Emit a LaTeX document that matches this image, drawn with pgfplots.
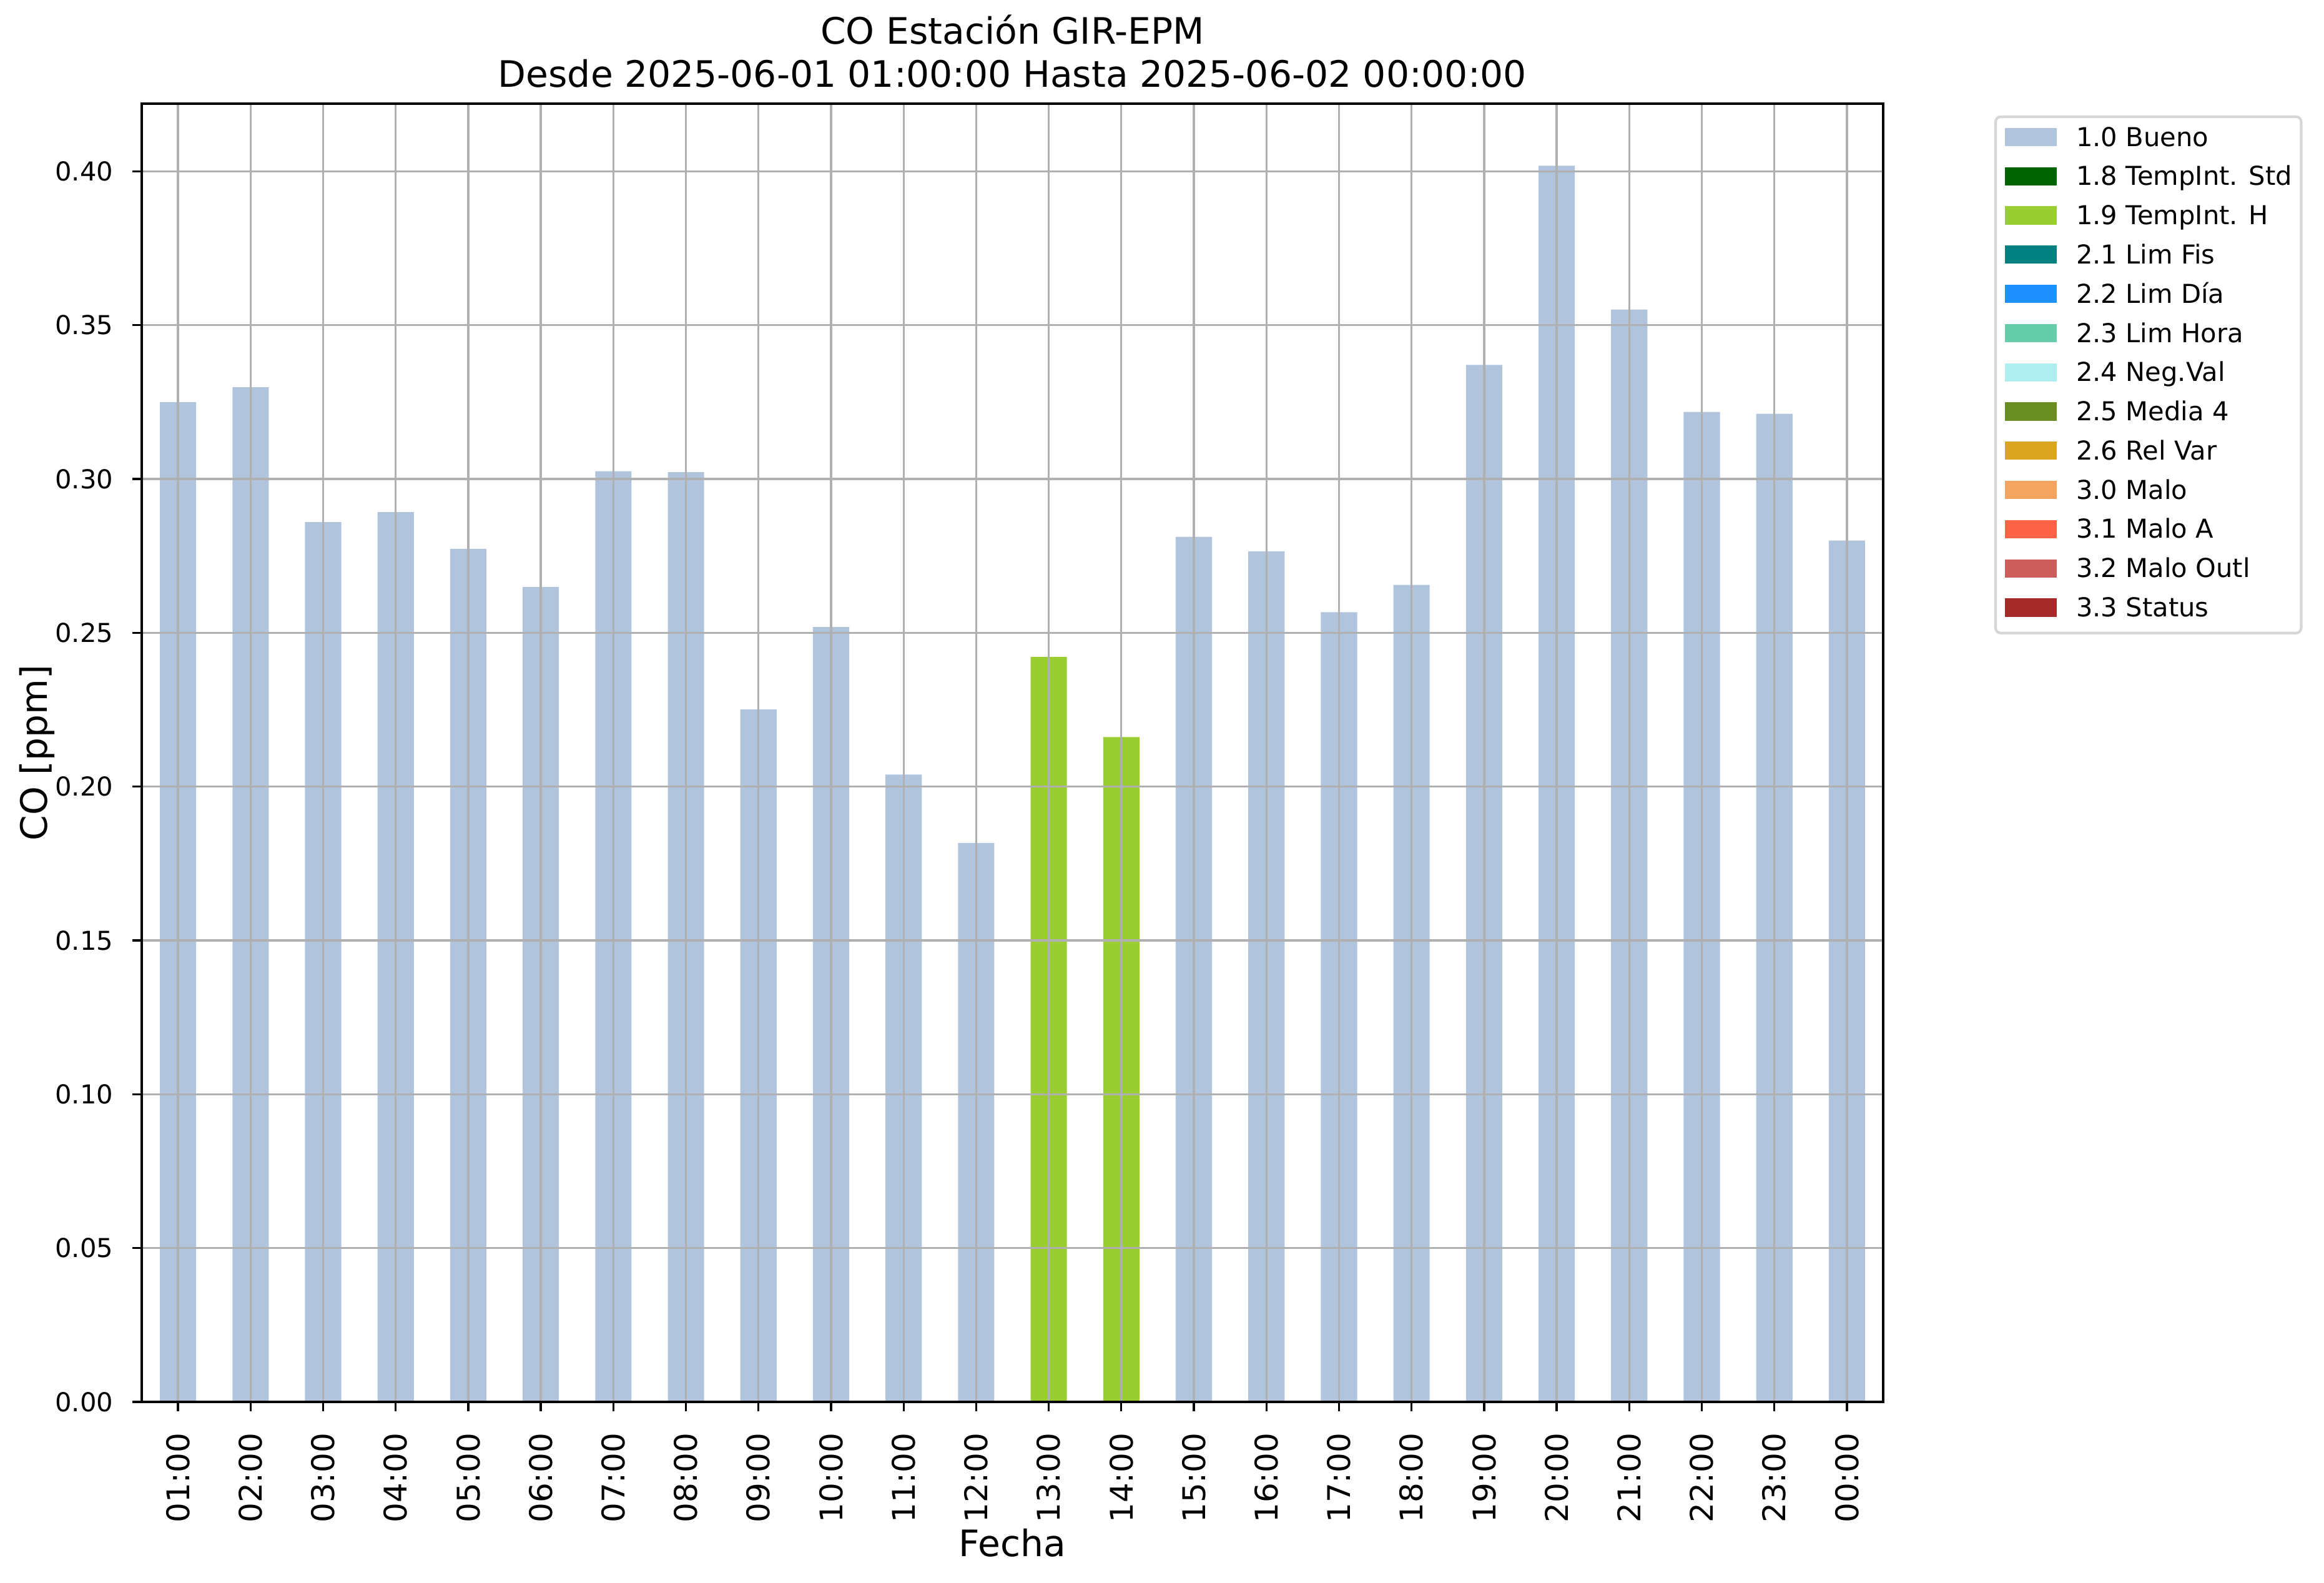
\documentclass[border=0pt]{standalone}
\usepackage{fontspec}
\setmainfont{DejaVu Sans}
\usepackage{pgfplots}
\pgfplotsset{compat=1.18}

\definecolor{bueno}{HTML}{B0C4DE}
\definecolor{tstd}{HTML}{006400}
\definecolor{th}{HTML}{9ACD32}
\definecolor{limfis}{HTML}{008080}
\definecolor{limdia}{HTML}{1E90FF}
\definecolor{limhora}{HTML}{66CDAA}
\definecolor{negval}{HTML}{AFEEEE}
\definecolor{media}{HTML}{6B8E23}
\definecolor{relvar}{HTML}{DAA520}
\definecolor{malo}{HTML}{F4A460}
\definecolor{maloa}{HTML}{FF6347}
\definecolor{malooutl}{HTML}{CD5C5C}
\definecolor{status}{HTML}{A52A2A}
\definecolor{gridgray}{HTML}{B0B0B0}
\definecolor{legframe}{HTML}{D6D6D6}

\begin{document}
\begin{tikzpicture}
\begin{axis}[
    at={(0,0)}, anchor=south west,
    scale only axis,
    width=669.36pt, height=498.96pt,
    xmin=-0.5, xmax=23.5,
    ymin=0, ymax=0.422,
    xtick={0,...,23},
    xticklabels={01:00,02:00,03:00,04:00,05:00,06:00,07:00,08:00,09:00,10:00,11:00,12:00,
                 13:00,14:00,15:00,16:00,17:00,18:00,19:00,20:00,21:00,22:00,23:00,00:00},
    ytick={0,0.05,0.1,0.15,0.2,0.25,0.3,0.35,0.4},
    scaled y ticks=false,
    /pgf/number format/assume math mode=true,
    yticklabel style={/pgf/number format/fixed, /pgf/number format/fixed zerofill,
                      /pgf/number format/precision=2,
                      font=\fontsize{10}{12}\selectfont, anchor=east, inner sep=0pt, xshift=-7.3pt},
    xticklabel style={font=\fontsize{12}{14}\selectfont, yshift=-8.2pt, rotate=90, anchor=east, inner sep=0pt},
    tick align=outside,
    xtick pos=left, ytick pos=left,
    major tick length=3.5pt,
    tick style={black, line width=0.8pt},
    axis line style={line width=0.8pt},
    grid=major,
    major grid style={color=gridgray, line width=0.8pt},
    axis on top,
    title={CO Estación GIR-EPM\\Desde 2025-06-01 01:00:00 Hasta 2025-06-02 00:00:00},
    title style={at={(0.5,1)}, anchor=south, align=center, inner sep=0pt, yshift=0pt,
                 font=\fontsize{14}{16.6}\selectfont},
    xlabel={Fecha},
    every axis x label/.style={at={(axis description cs:0.5,0)}, yshift=-59.28pt, anchor=base,
                 font=\fontsize{14}{16}\selectfont},
    ylabel={CO [ppm]},
    every axis y label/.style={at={(axis description cs:0,0.5)}, xshift=-36.24pt, rotate=90, anchor=base,
                 font=\fontsize{14}{16}\selectfont},
    legend image code/.code={\fill[#1, draw=none, sharp corners] (0pt,0pt) rectangle (20pt,7pt);},
    legend cell align=left,
    legend style={at={(1.0638,0.9909)}, anchor=north west,
                  draw=legframe, line width=1pt, rounded corners=2pt, fill=white,
                  inner xsep=3.5pt, inner ysep=3.8pt,
                  font=\fontsize{10}{12}\selectfont,
                  cells={anchor=base west},
                  nodes={inner sep=0pt, text height=7.5pt, text depth=2.5pt},
                  /tikz/row sep=5.07pt, /tikz/column sep=7.5pt},
]

% 1.0 Bueno
\addplot[ybar, bar width=0.5, fill=bueno, draw=none, forget plot] coordinates {
    (0,0.3250) (1,0.3298) (2,0.2860) (3,0.2892) (4,0.2773) (5,0.2649)
    (6,0.3025) (7,0.3022) (8,0.2251) (9,0.2519) (10,0.2039) (11,0.1817)
    (14,0.2812) (15,0.2765) (16,0.2567) (17,0.2656) (18,0.3371) (19,0.4018)
    (20,0.3551) (21,0.3218) (22,0.3212) (23,0.2800)
};
% 1.9 TempInt. H
\addplot[ybar, bar width=0.5, fill=th, draw=none, forget plot] coordinates {
    (12,0.2422) (13,0.2161)
};

\addlegendimage{fill=bueno}\addlegendentry{1.0 Bueno}
\addlegendimage{fill=tstd}\addlegendentry{1.8 TempInt. Std}
\addlegendimage{fill=th}\addlegendentry{1.9 TempInt. H}
\addlegendimage{fill=limfis}\addlegendentry{2.1 Lim Fis}
\addlegendimage{fill=limdia}\addlegendentry{2.2 Lim Día}
\addlegendimage{fill=limhora}\addlegendentry{2.3 Lim Hora}
\addlegendimage{fill=negval}\addlegendentry{2.4 Neg.Val}
\addlegendimage{fill=media}\addlegendentry{2.5 Media 4}
\addlegendimage{fill=relvar}\addlegendentry{2.6 Rel Var}
\addlegendimage{fill=malo}\addlegendentry{3.0 Malo}
\addlegendimage{fill=maloa}\addlegendentry{3.1 Malo A}
\addlegendimage{fill=malooutl}\addlegendentry{3.2 Malo Outl}
\addlegendimage{fill=status}\addlegendentry{3.3 Status}
\end{axis}
\pgfresetboundingbox
\path[use as bounding box] (-54.48pt,-69.36pt) rectangle (838.8pt,538.8pt);
\end{tikzpicture}
\end{document}
